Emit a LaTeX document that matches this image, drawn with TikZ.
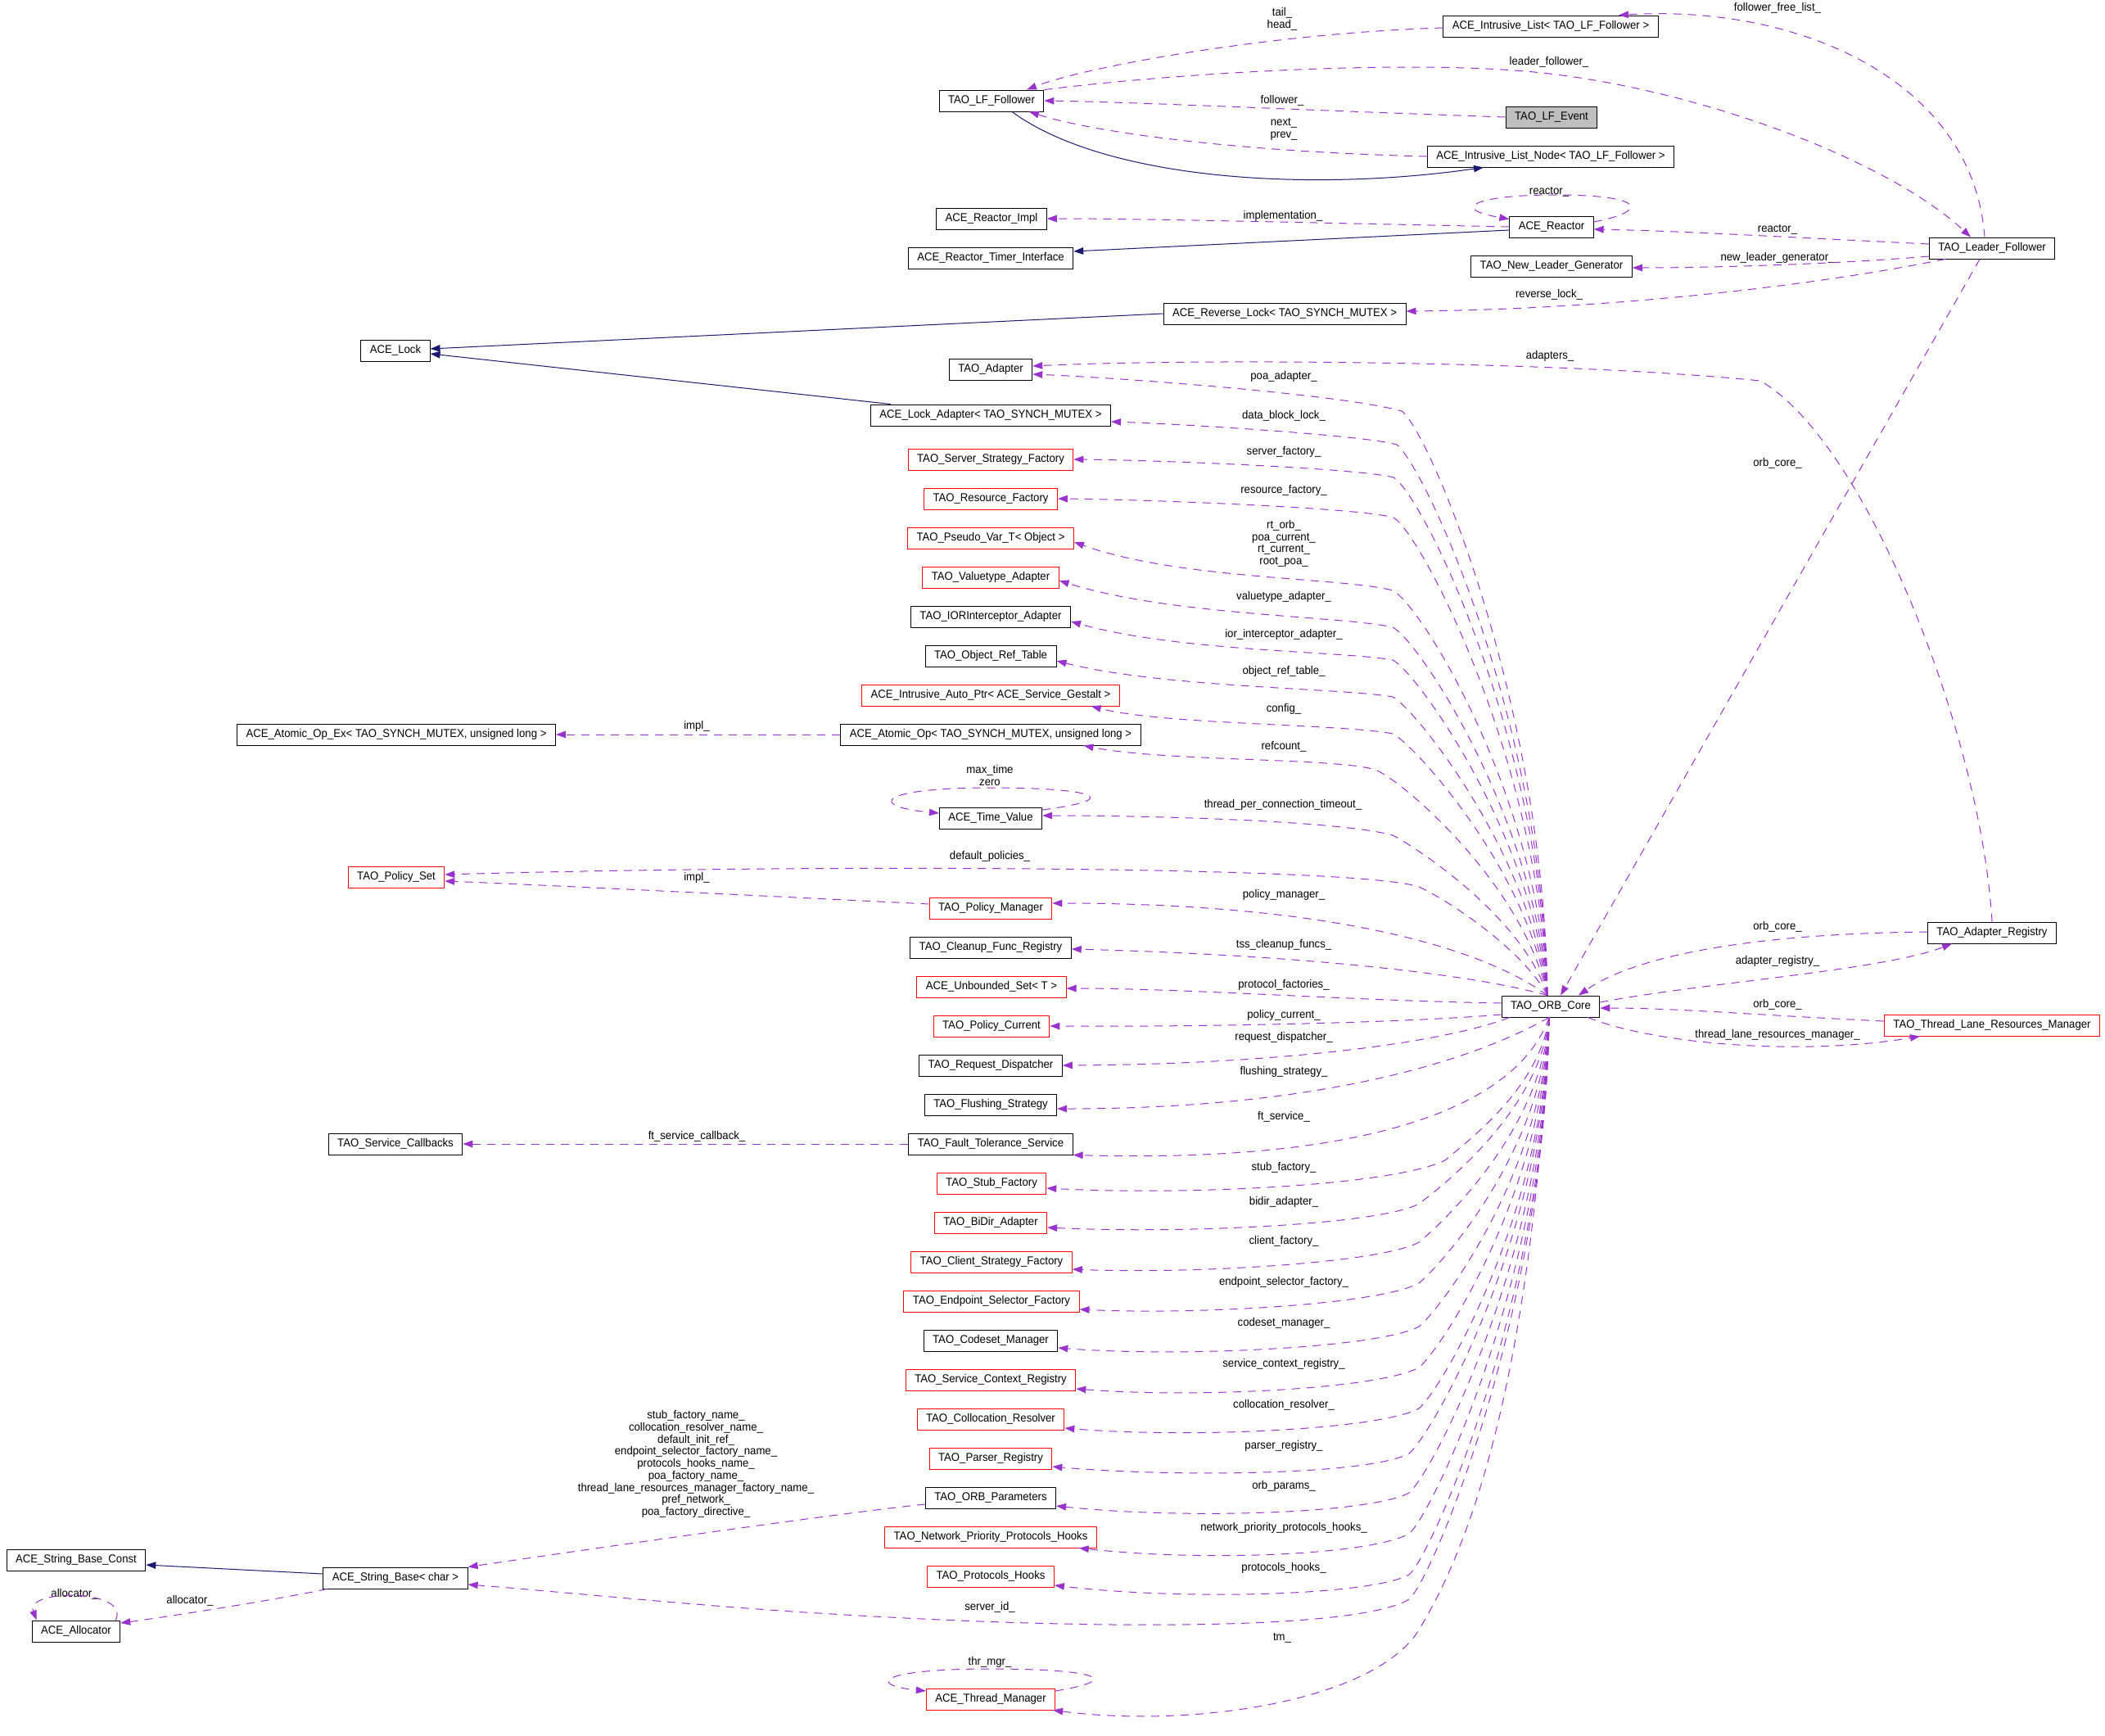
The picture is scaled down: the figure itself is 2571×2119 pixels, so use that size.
\documentclass[tikz,border=0pt]{standalone}
\usepackage{fontspec}
\usetikzlibrary{arrows.meta}
\newfontfamily\dxfam[FakeStretch=0.94]{Liberation Sans}
\newcommand{\dxfont}{\dxfam\fontsize{14pt}{14.7pt}\selectfont}
\definecolor{dxpurple}{HTML}{9A32CD}
\definecolor{dxblue}{HTML}{191970}
\definecolor{dxred}{HTML}{FF0000}
\definecolor{dxgrey}{HTML}{BFBFBF}

\begin{document}
\begin{tikzpicture}[x=1pt,y=-1pt]
	\tikzset{cls/.style={draw=black,line width=0.9pt,minimum height=26pt,inner xsep=11pt,inner ysep=2pt,font=\dxfont}}
	\tikzset{redcls/.style={cls,draw=dxred}}
	\tikzset{memb/.style={inner sep=0pt,align=center,font=\dxfont}}
	\tikzset{usage/.style={color=dxpurple,line width=1pt,dash pattern=on 10pt off 8pt,-{Triangle[length=12pt,width=8.5pt]}}}
	\tikzset{inherit/.style={color=dxblue,line width=1pt,-{Triangle[length=12pt,width=8.5pt]}}}

	\path[use as bounding box,fill=white] (0,0) rectangle (2571,2119);

	\node[cls] (lff) at (1211,123) {TAO\_LF\_Follower};
	\node[cls] (ilist) at (1894,32) {ACE\_Intrusive\_List< TAO\_LF\_Follower >};
	\node[cls,fill=dxgrey] (lfe) at (1895,143) {TAO\_LF\_Event};
	\node[cls] (ilnode) at (1894,191) {ACE\_Intrusive\_List\_Node< TAO\_LF\_Follower >};
	\node[cls] (rimpl) at (1211,267) {ACE\_Reactor\_Impl};
	\node[cls] (rtimer) at (1210,315) {ACE\_Reactor\_Timer\_Interface};
	\node[cls] (reactor) at (1895,277) {ACE\_Reactor};
	\node[cls] (nlg) at (1895,325) {TAO\_New\_Leader\_Generator};
	\node[cls] (rlock) at (1569,383) {ACE\_Reverse\_Lock< TAO\_SYNCH\_MUTEX >};
	\node[cls] (leader) at (2433,303) {TAO\_Leader\_Follower};
	\node[cls] (alock) at (483,428) {ACE\_Lock};
	\node[cls] (adapter) at (1210,451) {TAO\_Adapter};
	\node[cls] (lockad) at (1210,507) {ACE\_Lock\_Adapter< TAO\_SYNCH\_MUTEX >};
	\node[redcls] (ssf) at (1210,561) {TAO\_Server\_Strategy\_Factory};
	\node[redcls] (rf) at (1210,609) {TAO\_Resource\_Factory};
	\node[redcls] (pvt) at (1210,657) {TAO\_Pseudo\_Var\_T< Object >};
	\node[redcls] (vta) at (1210,705) {TAO\_Valuetype\_Adapter};
	\node[cls] (ior) at (1210,753) {TAO\_IORInterceptor\_Adapter};
	\node[cls] (ort) at (1210,801) {TAO\_Object\_Ref\_Table};
	\node[redcls] (iap) at (1210,849) {ACE\_Intrusive\_Auto\_Ptr< ACE\_Service\_Gestalt >};
	\node[cls] (aop) at (1210,897) {ACE\_Atomic\_Op< TAO\_SYNCH\_MUTEX, unsigned long >};
	\node[cls] (aopex) at (484,897) {ACE\_Atomic\_Op\_Ex< TAO\_SYNCH\_MUTEX, unsigned long >};
	\node[cls] (tv) at (1210,999) {ACE\_Time\_Value};
	\node[redcls] (pset) at (484,1071) {TAO\_Policy\_Set};
	\node[redcls] (pman) at (1210,1109) {TAO\_Policy\_Manager};
	\node[cls] (cfr) at (1210,1157) {TAO\_Cleanup\_Func\_Registry};
	\node[redcls] (ubs) at (1211,1205) {ACE\_Unbounded\_Set< T >};
	\node[redcls] (pcur) at (1211,1253) {TAO\_Policy\_Current};
	\node[cls] (rd) at (1210,1301) {TAO\_Request\_Dispatcher};
	\node[cls] (fs) at (1210,1349) {TAO\_Flushing\_Strategy};
	\node[cls] (fts) at (1210,1397) {TAO\_Fault\_Tolerance\_Service};
	\node[cls] (scb) at (483,1397) {TAO\_Service\_Callbacks};
	\node[redcls] (sf) at (1211,1445) {TAO\_Stub\_Factory};
	\node[redcls] (bda) at (1210,1493) {TAO\_BiDir\_Adapter};
	\node[redcls] (csf) at (1211,1541) {TAO\_Client\_Strategy\_Factory};
	\node[redcls] (esf) at (1211,1589) {TAO\_Endpoint\_Selector\_Factory};
	\node[cls] (csm) at (1210,1637) {TAO\_Codeset\_Manager};
	\node[redcls] (scr) at (1210,1685) {TAO\_Service\_Context\_Registry};
	\node[redcls] (cres) at (1210,1733) {TAO\_Collocation\_Resolver};
	\node[redcls] (preg) at (1210,1781) {TAO\_Parser\_Registry};
	\node[cls] (opar) at (1210,1829) {TAO\_ORB\_Parameters};
	\node[redcls] (npph) at (1210,1877) {TAO\_Network\_Priority\_Protocols\_Hooks};
	\node[redcls] (ph) at (1210,1925) {TAO\_Protocols\_Hooks};
	\node[redcls] (tmgr) at (1210,2075) {ACE\_Thread\_Manager};
	\node[cls] (orb) at (1894,1229) {TAO\_ORB\_Core};
	\node[cls] (areg) at (2433,1139) {TAO\_Adapter\_Registry};
	\node[redcls] (tlrm) at (2433,1252) {TAO\_Thread\_Lane\_Resources\_Manager};
	\node[cls] (sbc) at (93,1905) {ACE\_String\_Base\_Const};
	\node[cls] (sbase) at (483,1927) {ACE\_String\_Base< char >};
	\node[cls] (alloc) at (93,1992) {ACE\_Allocator};

	\node[memb] (ltail) at (1566,23) {tail\_\\head\_};
	\node[memb] (lfollower) at (1566,123) {follower\_};
	\node[memb] (lnext) at (1568,158) {next\_\\prev\_};
	\node[memb] (lffl) at (2171,10) {follower\_free\_list\_};
	\node[memb] (llf) at (1892,76) {leader\_follower\_};
	\node[memb] (limpl) at (1567,264) {implementation\_};
	\node[memb] (lreactorloop) at (1892,234) {reactor\_};
	\node[memb] (lreactor) at (2171,280) {reactor\_};
	\node[memb] (lnlg) at (2171,315) {new\_leader\_generator\_};
	\node[memb] (lrlock) at (1892,360) {reverse\_lock\_};
	\node[memb] (ladapters) at (1893,435) {adapters\_};
	\node[memb] (lpoa) at (1568,460) {poa\_adapter\_};
	\node[memb] (ldbl) at (1568,508) {data\_block\_lock\_};
	\node[memb] (lssf) at (1568,552) {server\_factory\_};
	\node[memb] (lrf) at (1568,599) {resource\_factory\_};
	\node[memb] (lrt) at (1568,664) {rt\_orb\_\\poa\_current\_\\rt\_current\_\\root\_poa\_};
	\node[memb] (lvta) at (1568,729) {valuetype\_adapter\_};
	\node[memb] (lior) at (1568,775) {ior\_interceptor\_adapter\_};
	\node[memb] (lort) at (1568,820) {object\_ref\_table\_};
	\node[memb] (lconfig) at (1568,866) {config\_};
	\node[memb] (lrefcount) at (1568,912) {refcount\_};
	\node[memb] (laopimpl) at (851,887) {impl\_};
	\node[memb] (ltvloop) at (1209,947) {max\_time\\zero};
	\node[memb] (ltpct) at (1567,983) {thread\_per\_connection\_timeout\_};
	\node[memb] (ldp) at (1209,1046) {default\_policies\_};
	\node[memb] (lpsimpl) at (851,1072) {impl\_};
	\node[memb] (lpm) at (1568,1093) {policy\_manager\_};
	\node[memb] (lorbcorea) at (2171,566) {orb\_core\_};
	\node[memb] (ltss) at (1568,1154) {tss\_cleanup\_funcs\_};
	\node[memb] (lpf) at (1568,1203) {protocol\_factories\_};
	\node[memb] (lpc) at (1568,1240) {policy\_current\_};
	\node[memb] (lrd) at (1568,1267) {request\_dispatcher\_};
	\node[memb] (lfs) at (1568,1309) {flushing\_strategy\_};
	\node[memb] (lft) at (1568,1364) {ft\_service\_};
	\node[memb] (lftcb) at (851,1388) {ft\_service\_callback\_};
	\node[memb] (lstub) at (1568,1426) {stub\_factory\_};
	\node[memb] (lbidir) at (1568,1468) {bidir\_adapter\_};
	\node[memb] (lclient) at (1568,1516) {client\_factory\_};
	\node[memb] (lesf) at (1568,1566) {endpoint\_selector\_factory\_};
	\node[memb] (lcsm) at (1568,1616) {codeset\_manager\_};
	\node[memb] (lscr) at (1568,1666) {service\_context\_registry\_};
	\node[memb] (lcres) at (1568,1716) {collocation\_resolver\_};
	\node[memb] (lpreg) at (1568,1766) {parser\_registry\_};
	\node[memb] (lopar) at (1568,1815) {orb\_params\_};
	\node[memb] (lnpph) at (1568,1866) {network\_priority\_protocols\_hooks\_};
	\node[memb] (lph) at (1568,1915) {protocols\_hooks\_};
	\node[memb] (lsid) at (1209,1963) {server\_id\_};
	\node[memb] (ltm) at (1566,2000) {tm\_};
	\node[memb] (lthr) at (1209,2030) {thr\_mgr\_};
	\node[memb] (lorbcoreb) at (2171,1132) {orb\_core\_};
	\node[memb] (lareg) at (2171,1174) {adapter\_registry\_};
	\node[memb] (lorbcorec) at (2171,1227) {orb\_core\_};
	\node[memb] (ltlrm) at (2171,1264) {thread\_lane\_resources\_manager\_};
	\node[memb] (lnames) at (850,1788) {stub\_factory\_name\_\\collocation\_resolver\_name\_\\default\_init\_ref\_\\endpoint\_selector\_factory\_name\_\\protocols\_hooks\_name\_\\poa\_factory\_name\_\\thread\_lane\_resources\_manager\_factory\_name\_\\pref\_network\_\\poa\_factory\_directive\_};
	\node[memb] (lallocloop) at (91,1947) {allocator\_};
	\node[memb] (lalloc) at (232,1955) {allocator\_};

	\draw[usage] ([yshift=-2pt]ilist.west) .. controls (1560,40) and (1330,80) .. ([xshift=43pt]lff.north);
	\draw[usage] (lff.north east) .. controls (1450,88) and (1700,75) .. (1850,86) .. controls (2050,100) and (2300,190) .. ([xshift=-26pt]leader.north);
	\draw[usage] (lfe.west) .. controls (1600,135) and (1400,125) .. (lff.east);
	\draw[usage] (ilnode.west) .. controls (1500,185) and (1330,160) .. ([xshift=46pt]lff.south);
	\draw[inherit] ([xshift=25pt]lff.south) .. controls (1350,220) and (1600,235) .. ([xshift=-82pt]ilnode.south);
	\draw[usage] (reactor.west) .. controls (1600,272) and (1400,267) .. (rimpl.east);
	\draw[inherit] ([yshift=-4pt]reactor.west) -- ([yshift=8pt]rtimer.east);
	\draw[usage] ([yshift=6pt]reactor.east) .. controls (2015,258) and (2010,238) .. (1900,238) .. controls (1800,238) and (1770,255) .. ([yshift=-4pt]reactor.north west);
	\draw[usage] ([yshift=5pt]leader.west) .. controls (2150,288) and (2050,282) .. ([yshift=-3pt]reactor.east);
	\draw[usage] ([yshift=-10pt]leader.west) .. controls (2250,322) and (2100,327) .. ([yshift=-2pt]nlg.east);
	\draw[usage] ([xshift=20pt]leader.south west) .. controls (2200,352) and (1950,378) .. ([yshift=3pt]rlock.east);
	\draw[usage] ([xshift=-9pt]leader.north) .. controls (2410,100) and (2200,5) .. ([xshift=83pt]ilist.north);
	\draw[usage] ([xshift=-15pt]leader.south) -- ([xshift=12pt]orb.north);
	\draw[inherit] (rlock.west) -- ([yshift=2pt]alock.east);
	\draw[inherit] ([xshift=25pt]lockad.north west) -- ([yshift=-4pt]alock.east);

	\draw[usage] (areg.north) .. controls (2420,900) and (2280,540) .. (2150,465) .. controls (1900,440) and (1450,438) .. ([yshift=4pt]adapter.east);
	\draw[usage] ([xshift=-4pt]orb.north) .. controls (1886,860) and (1745,525) .. (1712,502) .. controls (1640,482) and (1380,462) .. ([yshift=-6pt]adapter.east);
	\draw[usage] ([xshift=-4pt]orb.north) .. controls (1884,880) and (1740,570) .. (1706,543) .. controls (1670,532) and (1450,518) .. ([yshift=-8pt]lockad.east);
	\draw[usage] ([xshift=-4pt]orb.north) .. controls (1882,900) and (1738,605) .. (1702,583) .. controls (1660,572) and (1420,562) .. (ssf.east);
	\draw[usage] ([xshift=-4pt]orb.north) .. controls (1880,930) and (1736,652) .. (1702,632) .. controls (1660,620) and (1400,610) .. (rf.east);
	\draw[usage] ([xshift=-4pt]orb.north) .. controls (1878,970) and (1735,738) .. (1701,721) .. controls (1640,705) and (1440,708) .. ([yshift=-5pt]pvt.east);
	\draw[usage] ([xshift=-4pt]orb.north) .. controls (1875,1000) and (1733,782) .. (1701,766) .. controls (1640,752) and (1430,752) .. ([yshift=-4pt]vta.east);
	\draw[usage] ([xshift=-4pt]orb.north) .. controls (1872,1020) and (1730,820) .. (1701,806) .. controls (1640,795) and (1440,796) .. ([yshift=-6pt]ior.east);
	\draw[usage] ([xshift=-4pt]orb.north) .. controls (1868,1040) and (1728,865) .. (1701,851) .. controls (1640,840) and (1420,840) .. ([yshift=-6pt]ort.east);
	\draw[usage] ([xshift=-4pt]orb.north) .. controls (1865,1060) and (1726,908) .. (1701,896) .. controls (1640,884) and (1420,885) .. ([xshift=-35pt]iap.south east);
	\draw[usage] ([xshift=-4pt]orb.north) .. controls (1860,1080) and (1715,955) .. (1680,940) .. controls (1630,925) and (1420,930) .. ([xshift=-70pt]aop.south east);
	\draw[usage] (aop.west) -- (aopex.east);
	\draw[usage] ([yshift=10pt]tv.east) .. controls (1380,975) and (1330,962) .. (1210,962) .. controls (1070,962) and (1060,985) .. ([yshift=6pt]tv.west);
	\draw[usage] ([xshift=-4pt]orb.north) .. controls (1860,1120) and (1730,1035) .. (1701,1020) .. controls (1640,1003) and (1420,996) .. ([yshift=3pt]tv.east);
	\draw[usage] ([xshift=-4pt]orb.north) .. controls (1860,1160) and (1770,1100) .. (1733,1083) .. controls (1660,1058) and (1000,1055) .. ([yshift=3pt]pset.east);
	\draw[usage] ([yshift=5pt]pman.west) .. controls (950,1095) and (650,1080) .. ([yshift=-5pt]pset.east);
	\draw[usage] ([xshift=-4pt]orb.north) .. controls (1800,1150) and (1600,1103) .. ([yshift=6pt]pman.east);
	\draw[usage] ([xshift=-4pt]orb.north) .. controls (1780,1185) and (1550,1165) .. ([yshift=-2pt]cfr.east);
	\draw[usage] ([yshift=4pt]orb.west) .. controls (1650,1222) and (1450,1207) .. ([yshift=-2pt]ubs.east);
	\draw[usage] ([yshift=-10pt]orb.west) .. controls (1700,1250) and (1450,1254) .. (pcur.east);
	\draw[usage] ([xshift=10pt]orb.south west) .. controls (1760,1275) and (1550,1300) .. (rd.east);
	\draw[usage] ([xshift=-2pt]orb.south) .. controls (1790,1300) and (1600,1354) .. ([yshift=-5pt]fs.east);
	\draw[usage] ([xshift=-2pt]orb.south) .. controls (1850,1360) and (1650,1420) .. (fts.south east);
	\draw[usage] (fts.west) -- (scb.east);
	\draw[usage] ([xshift=-2pt]orb.south) .. controls (1880,1330) and (1790,1395) .. (1765,1417) .. controls (1700,1448) and (1450,1460) .. ([yshift=-6pt]sf.east);
	\draw[usage] ([xshift=-2pt]orb.south) .. controls (1882,1355) and (1760,1450) .. (1733,1470) .. controls (1688,1495) and (1450,1507) .. ([yshift=-6pt]bda.east);
	\draw[usage] ([xshift=-2pt]orb.south) .. controls (1884,1380) and (1760,1495) .. (1733,1517) .. controls (1688,1542) and (1460,1556) .. ([yshift=-9pt]csf.east);
	\draw[usage] ([xshift=-2pt]orb.south) .. controls (1885,1405) and (1760,1545) .. (1733,1567) .. controls (1688,1592) and (1470,1606) .. ([yshift=-10pt]esf.east);
	\draw[usage] ([xshift=-2pt]orb.south) .. controls (1886,1430) and (1760,1598) .. (1733,1620) .. controls (1688,1645) and (1450,1658) .. ([yshift=-9pt]csm.east);
	\draw[usage] ([xshift=-2pt]orb.south) .. controls (1886,1455) and (1760,1648) .. (1733,1670) .. controls (1688,1695) and (1470,1708) .. ([yshift=-11pt]scr.east);
	\draw[usage] ([xshift=-2pt]orb.south) .. controls (1887,1480) and (1760,1698) .. (1733,1720) .. controls (1688,1745) and (1460,1757) .. ([yshift=-11pt]cres.east);
	\draw[usage] ([xshift=-2pt]orb.south) .. controls (1887,1510) and (1748,1753) .. (1721,1775) .. controls (1676,1800) and (1450,1805) .. ([yshift=-10pt]preg.east);
	\draw[usage] ([xshift=-2pt]orb.south) .. controls (1888,1535) and (1748,1801) .. (1721,1823) .. controls (1676,1848) and (1450,1856) .. ([yshift=-10pt]opar.east);
	\draw[usage] ([xshift=-2pt]orb.south) .. controls (1888,1560) and (1748,1851) .. (1721,1873) .. controls (1676,1898) and (1480,1908) .. ([xshift=-22pt]npph.south east);
	\draw[usage] ([xshift=-2pt]orb.south) .. controls (1888,1585) and (1748,1901) .. (1721,1923) .. controls (1676,1948) and (1450,1955) .. ([yshift=-11pt]ph.east);
	\draw[usage] ([xshift=-2pt]orb.south) .. controls (1888,1600) and (1748,1931) .. (1721,1953) .. controls (1660,1990) and (1350,1992) .. (1000,1970) .. controls (850,1961) and (700,1945) .. ([yshift=-8pt]sbase.east);
	\draw[usage] ([xshift=-2pt]orb.south) .. controls (1870,1700) and (1790,1900) .. (1730,1995) .. controls (1670,2080) and (1450,2110) .. ([xshift=-3pt]tmgr.south east);
	\draw[usage] ([yshift=10pt]tmgr.east) .. controls (1380,2050) and (1330,2038) .. (1210,2038) .. controls (1070,2038) and (1060,2058) .. ([yshift=10pt]tmgr.west);

	\draw[usage] ([yshift=5pt]orb.east) .. controls (2080,1200) and (2300,1185) .. ([xshift=30pt]areg.south west);
	\draw[usage] ([yshift=1pt]areg.west) .. controls (2150,1140) and (2000,1165) .. ([xshift=34pt]orb.north);
	\draw[usage] ([yshift=5pt]tlrm.west) .. controls (2150,1240) and (2050,1231) .. ([yshift=-2pt]orb.east);
	\draw[usage] ([xshift=-15pt]orb.south east) .. controls (2020,1275) and (2200,1290) .. ([xshift=44pt]tlrm.south west);

	\draw[usage] ([yshift=-8pt]opar.west) .. controls (1050,1845) and (800,1880) .. (sbase.north east);
	\draw[inherit] ([yshift=5pt]sbase.west) -- ([yshift=-6pt]sbc.east);
	\draw[usage] ([xshift=5pt]sbase.south west) .. controls (330,1955) and (200,1975) .. ([yshift=10pt]alloc.east);
	\draw[usage] ([xshift=-6pt]alloc.north east) .. controls (160,1940) and (30,1940) .. ([xshift=6pt]alloc.north west);

\end{tikzpicture}
\end{document}
